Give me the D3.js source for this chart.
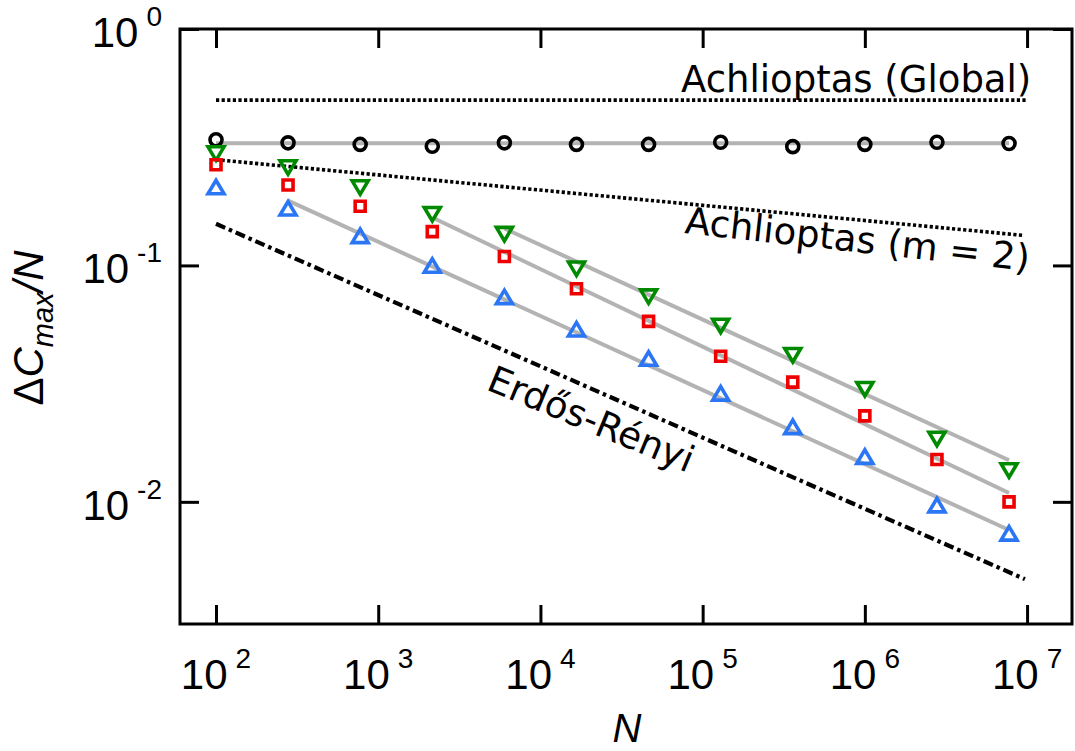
<!DOCTYPE html>
<html>
<head>
<meta charset="utf-8">
<script src="https://cdn.jsdelivr.net/npm/d3@7"></script>
<style>
  body { margin: 0; background: #fff; }
  svg { display: block; }
  .tick-label { font-family: "Liberation Sans", Arial, sans-serif; fill: #000; }
  .note { font-family: "DejaVu Sans", sans-serif; font-size: 37px; fill: #000; }
</style>
</head>
<body>
<div id="chart"></div>
<script>
/* Delta C_max / N vs N, log-log */

const W = 1075, H = 751;
const PLOT = { left: 180, right: 1072, top: 29, bottom: 624 };

// system sizes (x positions of the markers)
const N_VALUES = [100, 278, 774, 2154, 5995, 16681, 46416, 129155, 359381, 1000000, 2782559, 7742637];

// measured series
const BLACK_VALS = [0.340, 0.330, 0.325, 0.319, 0.330, 0.325, 0.325, 0.332, 0.318, 0.325, 0.332, 0.328];
const GREEN_VALS = [0.298, 0.260, 0.214, 0.165, 0.136, 0.097, 0.074, 0.0556, 0.0418, 0.0300, 0.0185, 0.0136];
const RED_VALS = [0.2665, 0.219, 0.178, 0.139, 0.109, 0.0797, 0.058, 0.0413, 0.0321, 0.0231, 0.0151, 0.0100];
const BLUE_VALS = [0.214, 0.174, 0.133, 0.0997, 0.0734, 0.0536, 0.0403, 0.0287, 0.0207, 0.0155, 0.00966, 0.00734];

// grey fit lines: [N, value] end points
const BLACK_FIT = [[100, 0.329], [7742637, 0.329]];
const GREEN_FIT = [[5995, 0.1433], [7742637, 0.0150]];
const RED_FIT = [[2154, 0.1595], [7742637, 0.0109]];
const BLUE_FIT = [[278, 0.188], [7742637, 0.0076]];

// reference curves
const ACH_GLOBAL = [[100, 0.5], [1e7, 0.5]];
const ACH_M2 = [[100, 0.28], [9.5e6, 0.134]];
const ERDOS = [[100, 0.150], [9.7e6, 0.00471]];

// tick values
const X_TICKS = [1e2, 1e3, 1e4, 1e5, 1e6, 1e7];
const X_EXP = ["2", "3", "4", "5", "6", "7"];
const Y_TICKS = [1, 0.1, 0.01];
const Y_EXP = ["0", "-1", "-2"];

const svg = d3.select("#chart").append("svg")
  .attr("width", W).attr("height", H);

const x = d3.scaleLog()
  .domain([Math.pow(10, 1.778), Math.pow(10, 7.277)])
  .range([PLOT.left, PLOT.right]);

const y = d3.scaleLog()
  .domain([Math.pow(10, -2.5167), 1])
  .range([PLOT.bottom, PLOT.top]);

const line = d3.line().x((d) => x(d[0])).y((d) => y(d[1]));

/* ---------- axes: inward ticks on all four sides ---------- */
const TICK = 19;
const axes = [
  { ax: d3.axisBottom(x), t: `translate(0,${PLOT.bottom})`, v: X_TICKS },
  { ax: d3.axisTop(x), t: `translate(0,${PLOT.top})`, v: X_TICKS },
  { ax: d3.axisLeft(y), t: `translate(${PLOT.left},0)`, v: Y_TICKS },
  { ax: d3.axisRight(y), t: `translate(${PLOT.right},0)`, v: Y_TICKS },
];
axes.forEach((a) => {
  const g = svg.append("g")
    .attr("transform", a.t)
    .call(a.ax.tickValues(a.v).tickSizeInner(-TICK).tickSizeOuter(0).tickFormat(""));
  g.select(".domain").remove();
  g.selectAll(".tick line").attr("stroke", "#000").attr("stroke-width", 3);
});

svg.append("rect")
  .attr("x", PLOT.left).attr("y", PLOT.top)
  .attr("width", PLOT.right - PLOT.left).attr("height", PLOT.bottom - PLOT.top)
  .attr("fill", "none").attr("stroke", "#000").attr("stroke-width", 3);

// tick labels as 10^n
svg.selectAll(".xlab").data(X_TICKS).join("text")
  .attr("class", "tick-label xlab")
  .attr("x", (d) => x(d)).attr("y", 689)
  .attr("text-anchor", "middle")
  .each(function (d, i) {
    const t = d3.select(this);
    t.append("tspan").attr("font-size", 42).text("10");
    t.append("tspan").attr("font-size", 28).attr("dx", 8).attr("dy", -21).text(X_EXP[i]);
  });

svg.selectAll(".ylab").data(Y_TICKS).join("text")
  .attr("class", "tick-label ylab")
  .attr("x", 162).attr("y", (d) => y(d) + 18)
  .attr("text-anchor", "end")
  .each(function (d, i) {
    const t = d3.select(this);
    t.append("tspan").attr("font-size", 42).text("10");
    t.append("tspan").attr("font-size", 28).attr("dx", 8).attr("dy", -21).text(Y_EXP[i]);
  });

// axis titles
svg.append("text")
  .attr("class", "tick-label")
  .attr("x", 627).attr("y", 742)
  .attr("text-anchor", "middle")
  .attr("font-size", 40).attr("font-style", "italic")
  .text("N");

const ylab = svg.append("text")
  .attr("class", "tick-label")
  .attr("transform", "translate(43,328) rotate(-90)")
  .attr("text-anchor", "middle")
  .attr("font-size", 42);
ylab.append("tspan").text("\u0394");
ylab.append("tspan").attr("font-style", "italic").text("C");
ylab.append("tspan").attr("font-style", "italic").attr("font-size", 29).attr("dy", 10).text("max");
ylab.append("tspan").attr("font-style", "italic").attr("dy", -10).text("/N");

/* ---------- grey fit lines ---------- */
[BLACK_FIT, GREEN_FIT, RED_FIT, BLUE_FIT].forEach((f) => {
  svg.append("path").datum(f)
    .attr("d", line)
    .attr("fill", "none").attr("stroke", "#b3b3b3").attr("stroke-width", 4);
});

/* ---------- reference curves ---------- */
[ACH_GLOBAL, ACH_M2].forEach((f) => {
  svg.append("path").datum(f)
    .attr("d", line)
    .attr("fill", "none").attr("stroke", "#000").attr("stroke-width", 3.6)
    .attr("stroke-dasharray", "3.2,2.4");
});

svg.append("path").datum(ERDOS)
  .attr("d", line)
  .attr("fill", "none").attr("stroke", "#000").attr("stroke-width", 4.2)
  .attr("stroke-dasharray", "10,4,3.5,4");

svg.append("text").attr("class", "note")
  .attr("x", 681).attr("y", 92)
  .text("Achlioptas (Global)");

svg.append("text").attr("class", "note")
  .attr("transform", "translate(684,233) rotate(6.3)")
  .text("Achlioptas (m = 2)");

svg.append("text").attr("class", "note")
  .attr("transform", "translate(485,389) rotate(22.5)")
  .text("Erd\u0151s-R\u00e9nyi");

/* ---------- markers ---------- */
const SHAPES = {
  circle: "M-6,0A6,6 0 1,0 6,0A6,6 0 1,0 -6,0Z",
  square: "M-5,-5H5V5H-5Z",
  up: "M-8,6.5H8L0,-7Z",
  down: "M-8,-6.5H8L0,7Z",
};

const SERIES = [
  { vals: BLACK_VALS, shape: "circle", color: "#000" },
  { vals: GREEN_VALS, shape: "down", color: "#008a00" },
  { vals: RED_VALS, shape: "square", color: "#ee0000" },
  { vals: BLUE_VALS, shape: "up", color: "#2a76f5" },
];

SERIES.forEach((s) => {
  svg.append("g").selectAll("path")
    .data(s.vals.map((v, i) => [N_VALUES[i], v]))
    .join("path")
    .attr("transform", (d) => `translate(${x(d[0])},${y(d[1])})`)
    .attr("d", SHAPES[s.shape])
    .attr("fill", "none")
    .attr("stroke", s.color)
    .attr("stroke-width", 3.6);
});
</script>
</body>
</html>
